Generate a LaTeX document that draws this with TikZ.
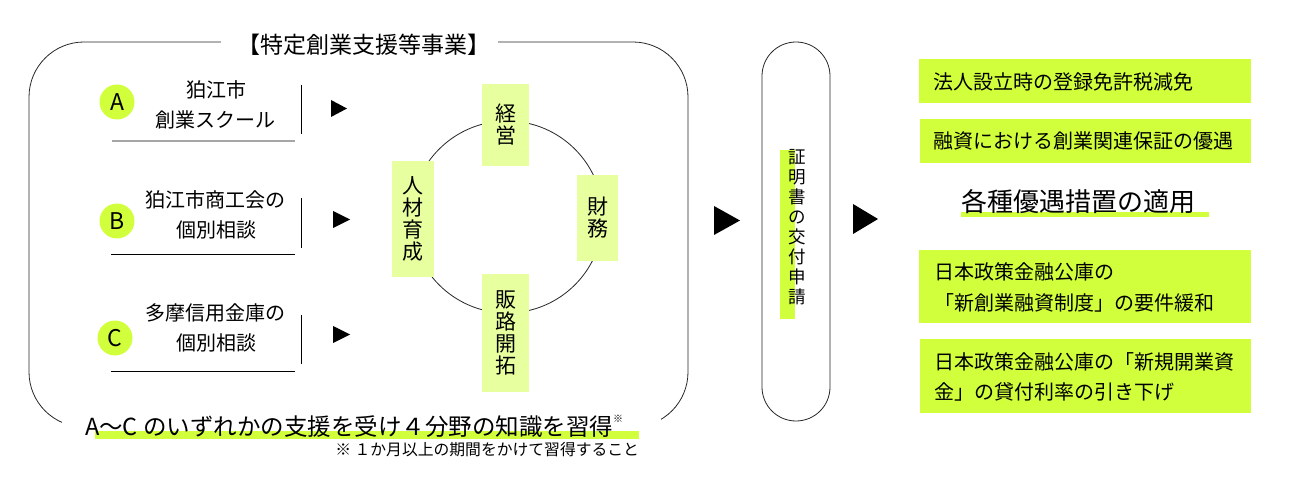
\documentclass[tikz,border=0pt]{standalone}
\usepackage{fontspec}
\newfontfamily\jp{Noto Sans CJK JP}
\definecolor{limeg}{RGB}{210,255,60}
\definecolor{limep}{RGB}{232,255,160}
\begin{document}
\begin{tikzpicture}[x=1pt,y=-1pt,
  every node/.style={inner sep=0pt, outer sep=0pt},
  txt/.style={font=\jp\fontsize{20}{24}\selectfont},
  vtxt/.style={font=\jp\fontsize{21}{22}\selectfont, align=center, fill=limep, text width=21pt},
  badge/.style={circle, fill=limeg, minimum size=35pt, font=\jp\fontsize{23}{26}\selectfont},
  gbox/.style={fill=limeg, anchor=north west},
  thin/.style={line width=0.8pt, black!85},
  tri/.style={fill=black}]
\useasboundingbox (0,0) rectangle (1290,494);

% big frame
\draw[thin, rounded corners=55] (29,42) rectangle (688,427);
\fill[white] (221,30) rectangle (498,56);
\fill[white] (62,405) rectangle (661,442);
\node[font=\jp\fontsize{23}{26}\selectfont] (title) at (364,45) {【特定創業支援等事業】};

% A
\node[badge] (ba) at (117,102) {A};
\node[txt] (a1) at (216,90) {狛江市};
\node[txt] (a2) at (215,120) {創業スクール};
\coordinate (av1) at (301,85); \coordinate (av2) at (301,134);
\draw[line width=0.9pt] (av1) -- (av2);
\coordinate (ah1) at (112,141); \coordinate (ah2) at (295,141);
\draw[line width=1.6pt, black!35] (ah1) -- (ah2);
\fill[tri] (331,100) -- (347,108.5) -- (331,117) -- cycle;

% B
\node[badge] (bb) at (117,221) {B};
\node[txt] (b1) at (215,200) {狛江市商工会の};
\node[txt] (b2) at (216,230) {個別相談};
\coordinate (bv1) at (301,198); \coordinate (bv2) at (301,248);
\draw[line width=0.9pt] (bv1) -- (bv2);
\coordinate (bh1) at (111,254); \coordinate (bh2) at (295,254);
\draw[line width=0.9pt] (bh1) -- (bh2);
\fill[tri] (333,211) -- (350,219.5) -- (333,228) -- cycle;

% C
\node[badge] (bc) at (115,338) {C};
\node[txt] (c1) at (215,313) {多摩信用金庫の};
\node[txt] (c2) at (216,343) {個別相談};
\coordinate (cv1) at (301,315); \coordinate (cv2) at (301,364);
\draw[line width=0.9pt] (cv1) -- (cv2);
\coordinate (ch1) at (111,371); \coordinate (ch2) at (295,371);
\draw[line width=0.9pt] (ch1) -- (ch2);
\fill[tri] (333,326) -- (350,334.5) -- (333,343) -- cycle;

% cycle
\coordinate (cc) at (507,217);
\draw[thin] (cc) circle[radius=96];
\node[vtxt, minimum height=82pt, text width=47pt] (keiei) at (505.5,125) {経\\営};
\node[vtxt, minimum height=116pt, text width=42pt] (jinzai) at (413,219) {人\\材\\育\\成};
\node[vtxt, minimum height=86pt, text width=41pt] (zaimu) at (597.5,218) {財\\務};
\node[vtxt, minimum height=118pt, text width=47pt] (hanro) at (505.5,333) {販\\路\\開\\拓};

% bottom text
\fill[limeg] (95,431) rectangle (639,439);
\node[font=\jp\fontsize{23.5}{27}\selectfont, anchor=west] (summary) at (85,426) {A〜C のいずれかの支援を受け４分野の知識を習得\raisebox{0.55em}{\fontsize{10}{12}\selectfont ※}};
\node[font=\jp\fontsize{15.8}{18}\selectfont, anchor=east] (note) at (639,450) {※ １か月以上の期間をかけて習得すること};

% middle pill
\fill[tri] (714,206) -- (740,220.5) -- (714,235) -- cycle;
\node[draw, thin, rounded corners=34pt, minimum width=68pt, minimum height=379pt] (pill) at (796,231.5) {};
\fill[limeg] (780,150) rectangle (795,319);
\node[font=\jp\fontsize{17.5}{20}\selectfont, align=center] (cert) at (797,227) {証\\明\\書\\の\\交\\付\\申\\請};
\fill[tri] (853,204) -- (878,219) -- (853,234) -- cycle;

% right column
\fill[gbox] (919,59) rectangle (1251,103);
\node[txt, anchor=west] (r1) at (933,82) {法人設立時の登録免許税減免};
\fill[gbox] (920,119) rectangle (1251,163);
\node[txt, anchor=west] (r2) at (933,141) {融資における創業関連保証の優遇};
\fill[limeg] (961,212) rectangle (1209,217);
\node[font=\jp\fontsize{26}{30}\selectfont, anchor=west] (main) at (961,202) {各種優遇措置の適用};
\fill[gbox] (919,250) rectangle (1251,323);
\node[txt, anchor=west] (r3a) at (934,272) {日本政策金融公庫の};
\node[txt, anchor=west] (r3b) at (934,303) {「新創業融資制度」の要件緩和};
\fill[gbox] (920,339) rectangle (1251,413);
\node[txt, anchor=west] (r4a) at (934,362) {日本政策金融公庫の「新規開業資};
\node[txt, anchor=west] (r4b) at (934,392) {金」の貸付利率の引き下げ};
\end{tikzpicture}
\end{document}
